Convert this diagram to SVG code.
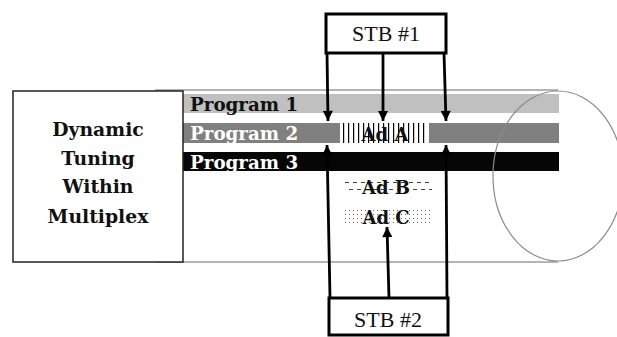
<svg xmlns="http://www.w3.org/2000/svg" width="617" height="337" viewBox="0 0 617 337">
<style>
.lbl{font-family:"DejaVu Serif","Liberation Serif",serif;font-weight:bold;font-size:18.3px}
.big{font-family:"DejaVu Serif","Liberation Serif",serif;font-weight:bold;font-size:18.8px;text-anchor:middle;fill:#111}
.stb{font-family:"Liberation Serif","Times New Roman",serif;font-size:22px;text-anchor:middle;fill:#111}
.ad{font-family:"DejaVu Serif","Liberation Serif",serif;font-weight:bold;font-size:18px;text-anchor:middle;fill:#111}
.conn{stroke:#000;stroke-width:2.8;fill:none}
.cyl{stroke:#b4b4b4;stroke-width:2;fill:none}
</style>
<defs>
<marker id="ah" viewBox="0 0 10 10" refX="10" refY="5" markerWidth="4" markerHeight="3.6" orient="auto" markerUnits="strokeWidth">
<path d="M0,0 L10,5 L0,10 z" fill="#000"/>
</marker>
<pattern id="vl" patternUnits="userSpaceOnUse" x="343" y="0" width="5" height="20">
<rect x="0" y="0" width="1.2" height="20" fill="#000"/>
</pattern>
<pattern id="hd" patternUnits="userSpaceOnUse" x="345" y="182" width="8" height="9">
<rect x="0" y="0" width="4" height="1" fill="#444"/>
<rect x="4" y="7" width="4" height="1" fill="#444"/>
</pattern>
<pattern id="dt" patternUnits="userSpaceOnUse" x="345" y="210" width="4" height="4">
<rect x="0" y="0" width="1" height="1" fill="#666"/>
</pattern>
<clipPath id="p3clip"><rect x="183" y="152" width="376" height="19"/></clipPath>
</defs>
<rect width="617" height="337" fill="#fff"/>

<g id="cylinder">
<line class="cyl" x1="155" y1="90" x2="558" y2="90"/>
<line class="cyl" x1="155" y1="262" x2="558" y2="262"/>
</g>

<g id="program1">
<rect x="183" y="94" width="376" height="19" fill="#c0c0c0"/>
<text class="lbl" x="190" y="111" fill="#111">Program 1</text>
</g>
<g id="program2">
<rect x="183" y="123" width="157" height="20" fill="#808080"/>
<rect x="429" y="123" width="130" height="20" fill="#808080"/>
<text class="lbl" x="190" y="140" fill="#fff">Program 2</text>
</g>
<g id="program3">
<rect x="183" y="152" width="376" height="19" fill="#060606"/>
<text class="lbl" x="190" y="169" fill="#fff" clip-path="url(#p3clip)">Program 3</text>
</g>

<g id="adA">
<rect x="343" y="123" width="85" height="20" fill="url(#vl)"/>
<text class="ad" x="385" y="141">Ad A</text>
</g>
<g id="adB">
<rect x="345" y="182" width="87" height="9" fill="url(#hd)"/>
<text class="ad" x="386" y="194">Ad B</text>
</g>
<g id="adC">
<rect x="345" y="210" width="87" height="14" fill="url(#dt)"/>
<text class="ad" x="386" y="224">Ad C</text>
</g>

<g id="end-ellipse">
<ellipse cx="558" cy="176" rx="65" ry="85" fill="none" stroke="#8a8a8a" stroke-width="1.2"/>
</g>

<g id="multiplex">
<rect x="13" y="91" width="170" height="171" fill="#fff" stroke="#222" stroke-width="1.5"/>
<text class="big" x="98" y="136">Dynamic</text>
<text class="big" x="98" y="165">Tuning</text>
<text class="big" x="98" y="193">Within</text>
<text class="big" x="98" y="223">Multiplex</text>
</g>

<g id="connectors">
<line class="conn" x1="327" y1="53" x2="328" y2="121" marker-end="url(#ah)"/>
<line class="conn" x1="383" y1="53" x2="383" y2="121" marker-end="url(#ah)"/>
<line class="conn" x1="444" y1="53" x2="446" y2="121" marker-end="url(#ah)"/>
<line class="conn" x1="330" y1="298" x2="327" y2="145" marker-end="url(#ah)"/>
<line class="conn" x1="447" y1="298" x2="446" y2="145" marker-end="url(#ah)"/>
<line class="conn" x1="389" y1="298" x2="387" y2="227" marker-end="url(#ah)"/>
</g>

<g id="stb1">
<rect x="326" y="14" width="120" height="39" fill="#fff" stroke="#000" stroke-width="3"/>
<text class="stb" x="386" y="41">STB #1</text>
</g>
<g id="stb2">
<rect x="329" y="298" width="119" height="37" fill="#fff" stroke="#000" stroke-width="3"/>
<text class="stb" x="388" y="327">STB #2</text>
</g>
</svg>
